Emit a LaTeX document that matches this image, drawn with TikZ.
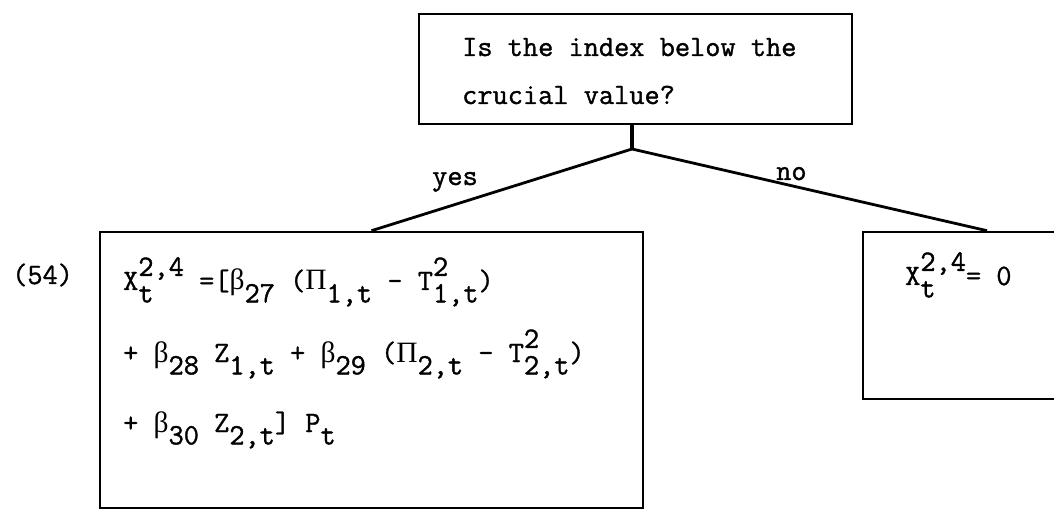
\documentclass[tikz,border=0pt]{standalone}
\usepackage{fontspec}
\setmonofont{Latin Modern Mono}[UprightFeatures={FakeBold=1.2}]
\newfontfamily\grk{Liberation Serif}
\newcommand\lo[1]{\raisebox{-0.42em}{#1}}
\newcommand\hi[1]{\raisebox{0.48em}{#1}}
\newcommand\both[2]{\makebox[0pt][l]{\hi{#1}}\lo{#2}}
\newcommand\bet{{\grk β}}
\newcommand\Pii{{\grk Π}}
\begin{document}
\begin{tikzpicture}[x=1pt,y=-1pt,
  box/.style={draw,line width=2.6pt,rectangle,inner sep=0pt},
  conn/.style={line width=2.8pt},
  txt/.style={anchor=base west,inner sep=0pt,font=\ttfamily\fontsize{29.5}{34}\selectfont}]
\useasboundingbox (0,0) rectangle (1054,510);
\clip (0,0) rectangle (1054,510);
\fill[white] (0,0) rectangle (1054,510);
% boxes
\node[box,minimum width=433pt,minimum height=110pt] (q) at (635.5,69) {};
\node[box,minimum width=543pt,minimum height=276pt] (lb) at (371.5,370) {};
\node[box,minimum width=248pt,minimum height=167pt] (rb) at (987,315.5) {};
% connectors
\coordinate (j) at (632,149);
\draw[line width=4pt] (j |- q.south) -- (j);
\draw[conn] (j) -- (lb.north);
\draw[conn] (j) -- (rb.north);
% texts
\node[txt] (q1) at (462,56) {Is the index below the};
\node[txt] (q2) at (462,104) {crucial value?};
\node[txt] (yes) at (432,185) {yes};
\node[txt] (no) at (776,180) {no};
\node[txt] (n54) at (12,284) {(54)};
\node[txt] (l1) at (123,290) {X\both{2,4}{t}\hphantom{,4} =[\bet\lo{27} (\Pii\lo{1,t} - T\both{2}{1,t})};
\node[txt] (l2) at (123,362) {+ \bet\lo{28} Z\lo{1,t} + \bet\lo{29} (\Pii\lo{2,t} - T\both{2}{2,t})};
\node[txt] (l3) at (123,432) {+ \bet\lo{30} Z\lo{2,t}] P\lo{t}};
\node[txt] (r1) at (905,285) {X\both{2,4}{t}\hphantom{,4}= 0};
\end{tikzpicture}
\end{document}
